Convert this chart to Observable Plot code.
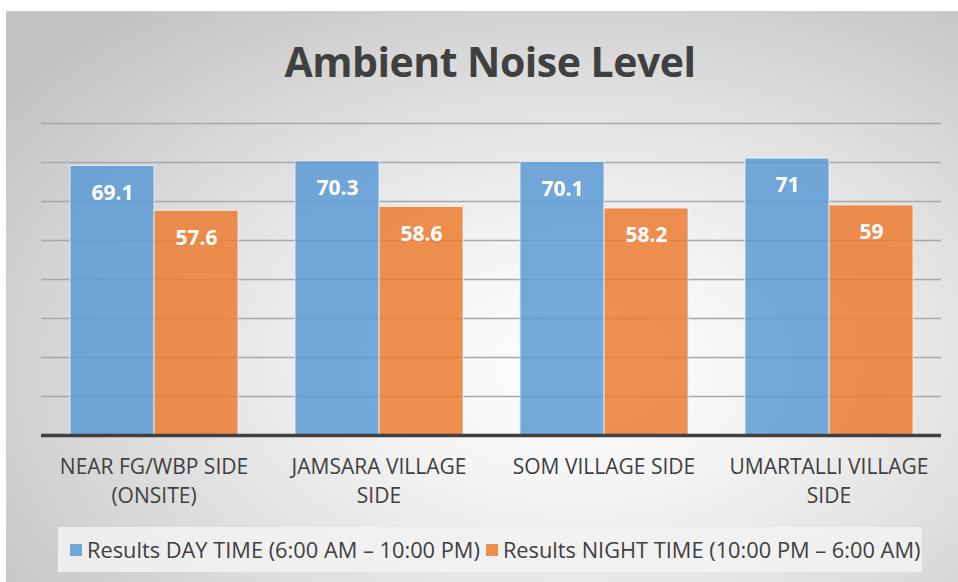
<!DOCTYPE html>
<html>
<head>
<meta charset="utf-8">
<script src="https://cdn.jsdelivr.net/npm/d3@7"></script>
<script src="https://cdn.jsdelivr.net/npm/@observablehq/plot@0.6"></script>
<style>
  html, body { margin: 0; padding: 0; background: #ffffff; }
  #page { position: relative; width: 958px; height: 582px; overflow: hidden; font-family: "Open Sans", sans-serif; }
  #frame { position: absolute; left: 6px; top: 11px; width: 952px; height: 571px;
    background: radial-gradient(ellipse 75% 80% at 60% 62%, #ffffff 0%, #f4f4f4 28%, #dedede 62%, #c2c2c2 100%);
    border-top: 1px solid #d0d0d0; box-sizing: border-box; }
  #title { position: absolute; left: 0; width: 980px; top: 33px; text-align: center; font-size: 41px; font-weight: 700; color: #404040; letter-spacing: -0.5px; }
  #chart { position: absolute; left: 0; top: 0; }
  #legend { position: absolute; left: 58px; top: 527px; width: 864px; height: 45px; background: rgba(242,242,242,0.85);
    display: flex; align-items: center; font-size: 21.8px; color: #404040; white-space: nowrap; }
  .item { display: flex; align-items: center; }
  .sw { width: 12px; height: 12px; margin: 0 5px 0 0; }
</style>
</head>
<body>
<div id="page">
  <div id="frame"></div>
  <div id="title">Ambient Noise Level</div>
  <div id="chart"></div>
  <div id="legend"></div>
</div>
<script>
const sites = ["NEAR FG/WBP SIDE\n(ONSITE)", "JAMSARA VILLAGE\nSIDE", "SOM VILLAGE SIDE", "UMARTALLI VILLAGE\nSIDE"];
const series = ["Results DAY TIME (6:00 AM – 10:00 PM)", "Results NIGHT TIME (10:00 PM – 6:00 AM)"];
const dayValues = [69.1, 70.3, 70.1, 71];
const nightValues = [57.6, 58.6, 58.2, 59];
const gridTicks = [10, 20, 30, 40, 50, 60, 70, 80];
const colors = ["#5B9BD5", "#ED7D31"];

const data = [];
sites.forEach((s, i) => {
  data.push({site: s, series: series[0], value: dayValues[i]});
  data.push({site: s, series: series[1], value: nightValues[i]});
});

const chart = Plot.plot({
  width: 958,
  height: 520,
  marginLeft: 40,
  marginRight: 17,
  marginTop: 123,
  marginBottom: 85,
  style: {background: "transparent", overflow: "visible", fontFamily: "Open Sans, sans-serif"},
  fx: {domain: sites, padding: 0, axis: null, label: null},
  x: {domain: series, paddingInner: 0, paddingOuter: 1/3, axis: null},
  y: {domain: [0, 80], axis: null},
  color: {domain: series, range: colors},
  marks: [
    Plot.ruleY(gridTicks, {stroke: "#a8a8a8", strokeWidth: 1.3}),
    Plot.barY(data, {fx: "site", x: "series", y: "value", fill: "series", fillOpacity: 0.85, stroke: "#eef4fa", strokeOpacity: 0.8, strokeWidth: 1}),
    Plot.text(data, {fx: "site", x: "series", y: "value", text: d => String(d.value), dy: 27, fill: "white", fontWeight: 700, fontSize: 21}),
    Plot.ruleY([0], {stroke: "#404040", strokeWidth: 3.5}),
    Plot.text(sites, {fx: d => d, text: d => d, frameAnchor: "bottom", lineAnchor: "top", dy: 18, lineHeight: 1.38, fontSize: 21, fill: "#404040"})
  ]
});
document.getElementById("chart").appendChild(chart);

const legend = document.getElementById("legend");
series.forEach((s, i) => {
  const item = document.createElement("div");
  item.className = "item";
  item.style.marginLeft = i === 0 ? "12px" : "6px";
  const sw = document.createElement("div");
  sw.className = "sw";
  sw.style.background = colors[i];
  sw.style.opacity = 0.85;
  const t = document.createElement("span");
  t.textContent = s;
  item.appendChild(sw);
  item.appendChild(t);
  legend.appendChild(item);
});
</script>
</body>
</html>
